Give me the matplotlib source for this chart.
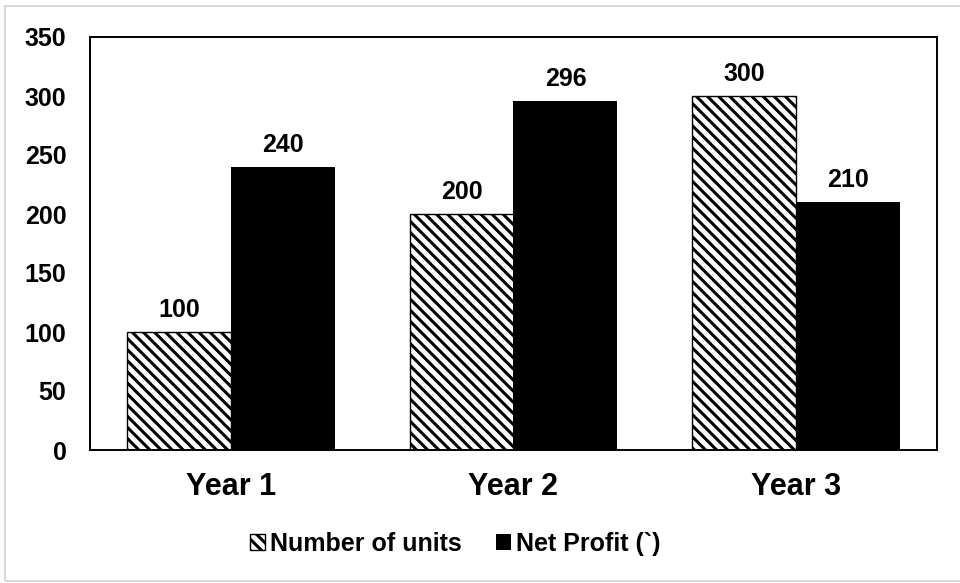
import matplotlib
matplotlib.use("Agg")
import matplotlib.pyplot as plt
from matplotlib.patches import Rectangle
import numpy as np

# Chart data
years = ["Year 1", "Year 2", "Year 3"]
units = [100, 200, 300]
net_profit = [240, 296, 210]
series_names = ["Number of units", "Net Profit (`)"]
y_ticks = [0, 50, 100, 150, 200, 250, 300, 350]

plt.rcParams["font.family"] = ["Liberation Sans", "DejaVu Sans"]
plt.rcParams["font.weight"] = "bold"
plt.rcParams["hatch.linewidth"] = 2.2
plt.rcParams["hatch.color"] = "black"

fig = plt.figure(figsize=(9.6, 5.83), dpi=100)
ax = fig.add_axes([90 / 960, 1 - 450 / 583, (937 - 90) / 960, (450 - 37) / 583])

x = np.arange(len(years))
w = 0.368

b1 = ax.bar(x - w / 2, units, w, color="white", edgecolor="black",
            linewidth=1.0, hatch="\\\\\\", label=series_names[0])
b2 = ax.bar(x + w / 2, net_profit, w, color="black", edgecolor="black",
            linewidth=0, label=series_names[1])

# value labels above bars
for bars, vals in [(b1, units), (b2, net_profit)]:
    for rect, v in zip(bars, vals):
        ax.annotate(str(v), (rect.get_x() + rect.get_width() / 2, v),
                    xytext=(0, 7), textcoords="offset points",
                    ha="center", va="bottom", fontsize=18, fontweight="bold")

ax.set_xlim(-0.5, len(years) - 0.5)
ax.set_ylim(0, 350)
ax.set_yticks(y_ticks)
ax.set_xticks(x)
ax.set_xticklabels(years, fontsize=22, fontweight="bold")
ax.tick_params(axis="y", length=0, pad=17, labelsize=18)
ax.tick_params(axis="x", length=0, pad=16)
for s in ax.spines.values():
    s.set_linewidth(1.4)
    s.set_color("black")

leg = fig.legend(handles=[b1, b2], labels=series_names, loc="center",
                 bbox_to_anchor=(455 / 960, 1 - 544 / 583), ncol=2,
                 frameon=False, fontsize=18, handlelength=0.6, handleheight=0.6,
                 handletextpad=0.2, columnspacing=1.36)
for t in leg.get_texts():
    t.set_fontweight("bold")

# light grey outer border
fig.patches.append(Rectangle((5 / 960, 2 / 583), 1.0, 1 - 8 / 583,
                             transform=fig.transFigure, fill=False,
                             edgecolor="#d9d9d9", linewidth=1.5))

fig.savefig("out.png", dpi=100)
